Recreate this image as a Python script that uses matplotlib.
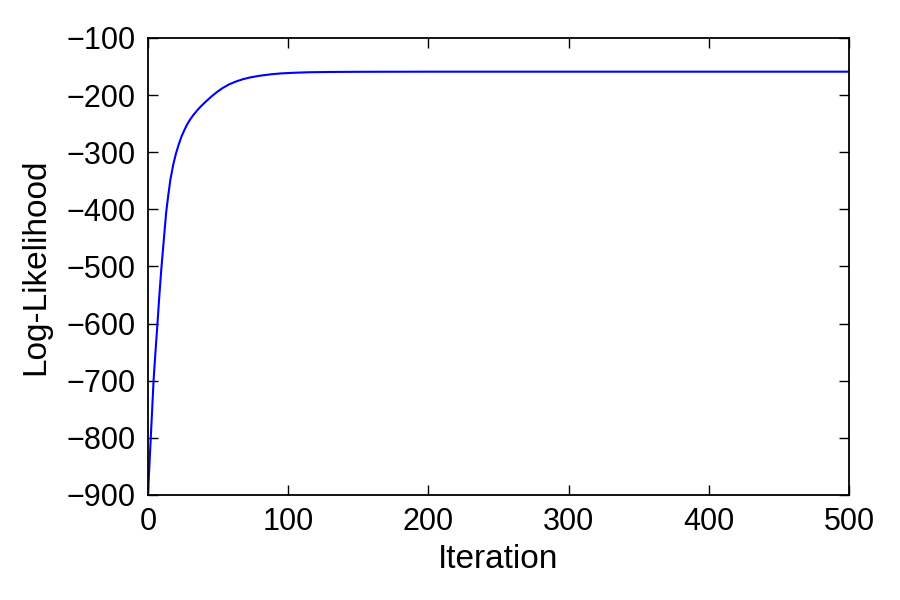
#!/usr/bin/env python3
"""Log-likelihood vs iteration curve, classic matplotlib look."""

import matplotlib

matplotlib.use("Agg")
import matplotlib.pyplot as plt

# values
ITERATION = [0, 1, 2, 3, 4, 5, 6.5, 8, 9.5, 11, 13, 14.5, 16, 18, 20, 22,
             24, 26, 28, 30, 32, 35, 38, 41, 45, 49, 53, 58, 63, 68, 73,
             80, 88, 95, 105, 115, 130, 150, 200, 300, 400, 500]
LOG_LIK = [-900, -850, -800, -750, -700, -662, -610, -555, -505, -462,
           -405, -375, -348, -322, -302, -286, -272, -261, -251, -243,
           -236, -227, -219, -212, -203, -195, -188, -181, -176, -172,
           -169, -166, -163.5, -162, -160.8, -160, -159.5, -159.2, -159,
           -159, -159, -159]

XTICKS = [0, 100, 200, 300, 400, 500]
YTICKS = [-900, -800, -700, -600, -500, -400, -300, -200, -100]

plt.rcParams["font.family"] = ["Liberation Sans", "DejaVu Sans"]

fig = plt.figure(figsize=(9, 6), dpi=100)
ax = fig.add_axes([0.1644, 0.175, 0.779, 0.7617])

ax.plot(ITERATION, LOG_LIK, color="#0000ff", linewidth=1.5)

ax.set_xlim(0, 500)
ax.set_ylim(-900, -100)
ax.set_xticks(XTICKS)
ax.set_yticks(YTICKS)
ax.set_xticklabels([str(t) for t in XTICKS])
ax.set_yticklabels([str(t).replace("-", "\u2212") for t in YTICKS])
ax.tick_params(direction="in", length=7, width=1.0, top=True, right=True,
               pad=9, labelsize=22)
for sp in ax.spines.values():
    sp.set_linewidth(1.3)

ax.set_xlabel("Iteration", fontsize=24, labelpad=5)
ax.set_ylabel("Log-Likelihood", fontsize=24, labelpad=11)

fig.savefig("out.png", dpi=100)
